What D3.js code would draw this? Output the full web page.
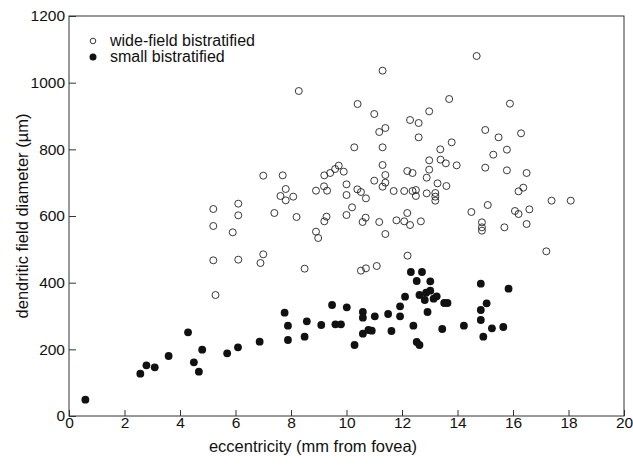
<!DOCTYPE html>
<html>
<head>
<meta charset="utf-8">
<script src="https://cdn.jsdelivr.net/npm/d3@7"></script>
<style>
  body { margin: 0; background: #fff; }
  svg { display: block; font-family: "Liberation Sans", Arial, sans-serif; }
</style>
</head>
<body>
<div id="chart"></div>
<script>
// wide-field bistratified cells [eccentricity mm, diameter um]
var wideField = [
  [5.2,621],[5.2,570],[5.2,467],[5.28,363],[5.9,551],[6.1,637],[6.1,602],[6.1,469],
  [6.9,459],[7.0,485],[7.0,721],[7.4,609],[7.62,660],[7.7,722],[7.81,681],[7.81,647],
  [8.08,658],[8.2,597],[8.28,975],[8.49,442],[8.9,676],[8.9,553],[8.98,534],[9.19,689],
  [9.2,722],[9.2,584],[9.28,598],[9.3,676],[9.41,729],[9.59,741],[9.72,751],[9.9,733],
  [10.0,695],[10.0,663],[10.0,603],[10.2,626],[10.28,806],[10.39,680],[10.52,672],[10.7,653],
  [10.4,936],[10.58,582],[10.69,595],[10.52,436],[10.7,443],[11.09,450],[11.0,906],[11.0,706],
  [11.18,852],[11.18,582],[11.3,1036],[11.3,806],[11.3,753],[11.3,688],[11.4,700],[11.4,723],
  [11.4,864],[11.4,546],[11.7,675],[11.8,587],[12.08,675],[12.08,584],[12.19,735],[12.19,609],
  [12.2,481],[12.29,888],[12.29,573],[12.38,729],[12.38,675],[12.5,678],[12.5,660],[12.6,879],
  [12.6,836],[12.68,584],[12.89,715],[12.89,668],[12.98,914],[12.98,767],[12.98,739],[13.2,669],
  [13.2,658],[13.2,646],[13.28,698],[13.38,800],[13.39,769],[13.58,758],[13.6,690],[13.7,951],
  [13.79,821],[13.97,752],[14.5,612],[14.69,1080],[14.88,581],[14.88,566],[14.88,556],[15.0,858],
  [15.0,745],[15.09,633],[15.29,784],[15.48,836],[15.69,566],[15.78,799],[15.78,737],[15.89,937],
  [16.07,615],[16.2,606],[16.2,674],[16.29,848],[16.37,685],[16.49,729],[16.49,576],[16.59,620],
  [17.2,494],[17.39,646],[18.08,646]
]

// small bistratified cells
var smallBistrat = [
  [0.59,49],[2.57,127],[2.79,152],[3.09,146],[3.59,180],[4.29,251],[4.5,161],[4.68,133],
  [4.8,199],[5.7,188],[6.09,206],[6.87,223],[7.77,310],[7.89,228],[7.89,271],[8.49,238],
  [8.57,284],[9.09,273],[9.48,333],[9.6,275],[9.8,275],[10.01,326],[10.29,213],[10.59,312],
  [10.59,295],[10.59,247],[10.79,258],[10.91,256],[11.02,299],[11.5,306],[11.62,255],[11.93,329],
  [11.93,299],[12.11,358],[12.32,432],[12.41,271],[12.53,405],[12.53,222],[12.63,213],[12.63,363],
  [12.72,432],[12.82,348],[12.87,370],[12.92,312],[13.02,404],[13.02,376],[13.14,352],[13.25,359],
  [13.45,261],[13.52,339],[13.64,339],[14.23,271],[14.84,397],[14.84,318],[14.84,288],[14.93,238],
  [15.05,338],[15.24,263],[15.65,267],[15.84,382]
]

var xTicks = [0,2,4,6,8,10,12,14,16,18,20]
var yTicks = [0,200,400,600,800,1000,1200]
var legendLabels = ["wide-field bistratified", "small bistratified"]

var width = 633, height = 470
var mLeft = 69, mRight = 624, mTop = 16, mBottom = 416

var svg = d3.select("#chart").append("svg")
    .attr("width", width)
    .attr("height", height)

var x = d3.scaleLinear().domain([0, 20]).range([mLeft, mRight])
var y = d3.scaleLinear().domain([0, 1200]).range([mBottom, mTop])

// axes, ticks pointing inward
var xAxis = svg.append("g")
    .attr("transform", "translate(0," + mBottom + ")")
    .call(d3.axisBottom(x).tickValues(xTicks).tickSize(-6).tickPadding(1).tickFormat(d3.format("d")))
var yAxis = svg.append("g")
    .attr("transform", "translate(" + mLeft + ",0)")
    .call(d3.axisLeft(y).tickValues(yTicks).tickSize(-7).tickPadding(4).tickFormat(d3.format("d")))

;[xAxis, yAxis].forEach(function(g) {
    g.select(".domain").remove()
    g.selectAll("line").attr("stroke", "#333").attr("stroke-width", 1)
    g.selectAll("text").attr("fill", "#111").style("font-size", "15.5px").style("font-family", "Liberation Sans, Arial, sans-serif")
})

// frame
svg.append("rect")
    .attr("x", mLeft).attr("y", mTop)
    .attr("width", mRight - mLeft).attr("height", mBottom - mTop)
    .attr("fill", "none").attr("stroke", "#333").attr("stroke-width", 1)

svg.append("text")
    .attr("x", 313).attr("y", 452)
    .attr("text-anchor", "middle")
    .style("font-size", "16.5px").attr("fill", "#111")
    .text("eccentricity (mm from fovea)")

svg.append("text")
    .attr("transform", "translate(28,216) rotate(-90)")
    .attr("text-anchor", "middle")
    .style("font-size", "16.5px").attr("fill", "#111")
    .text("dendritic field diameter (\u00b5m)")

svg.selectAll("circle.wide")
    .data(wideField)
  .enter().append("circle")
    .attr("class", "wide")
    .attr("cx", function(d) { return x(d[0]) })
    .attr("cy", function(d) { return y(d[1]) })
    .attr("r", 3.5)
    .attr("fill", "none")
    .attr("stroke", "#222")
    .attr("stroke-width", 0.9)

svg.selectAll("circle.small")
    .data(smallBistrat)
  .enter().append("circle")
    .attr("class", "small")
    .attr("cx", function(d) { return x(d[0]) })
    .attr("cy", function(d) { return y(d[1]) })
    .attr("r", 3.9)
    .attr("fill", "#111")

// legend
var legend = svg.append("g")
legend.append("circle").attr("cx", 93).attr("cy", 41).attr("r", 2.8)
    .attr("fill", "none").attr("stroke", "#222").attr("stroke-width", 0.9)
legend.append("circle").attr("cx", 93).attr("cy", 57).attr("r", 3.5).attr("fill", "#111")
legend.selectAll("text")
    .data(legendLabels)
  .enter().append("text")
    .attr("x", 110)
    .attr("y", function(d, i) { return 46 + i * 16 })
    .style("font-size", "16px").attr("fill", "#111")
    .text(function(d) { return d })
</script>
</body>
</html>
